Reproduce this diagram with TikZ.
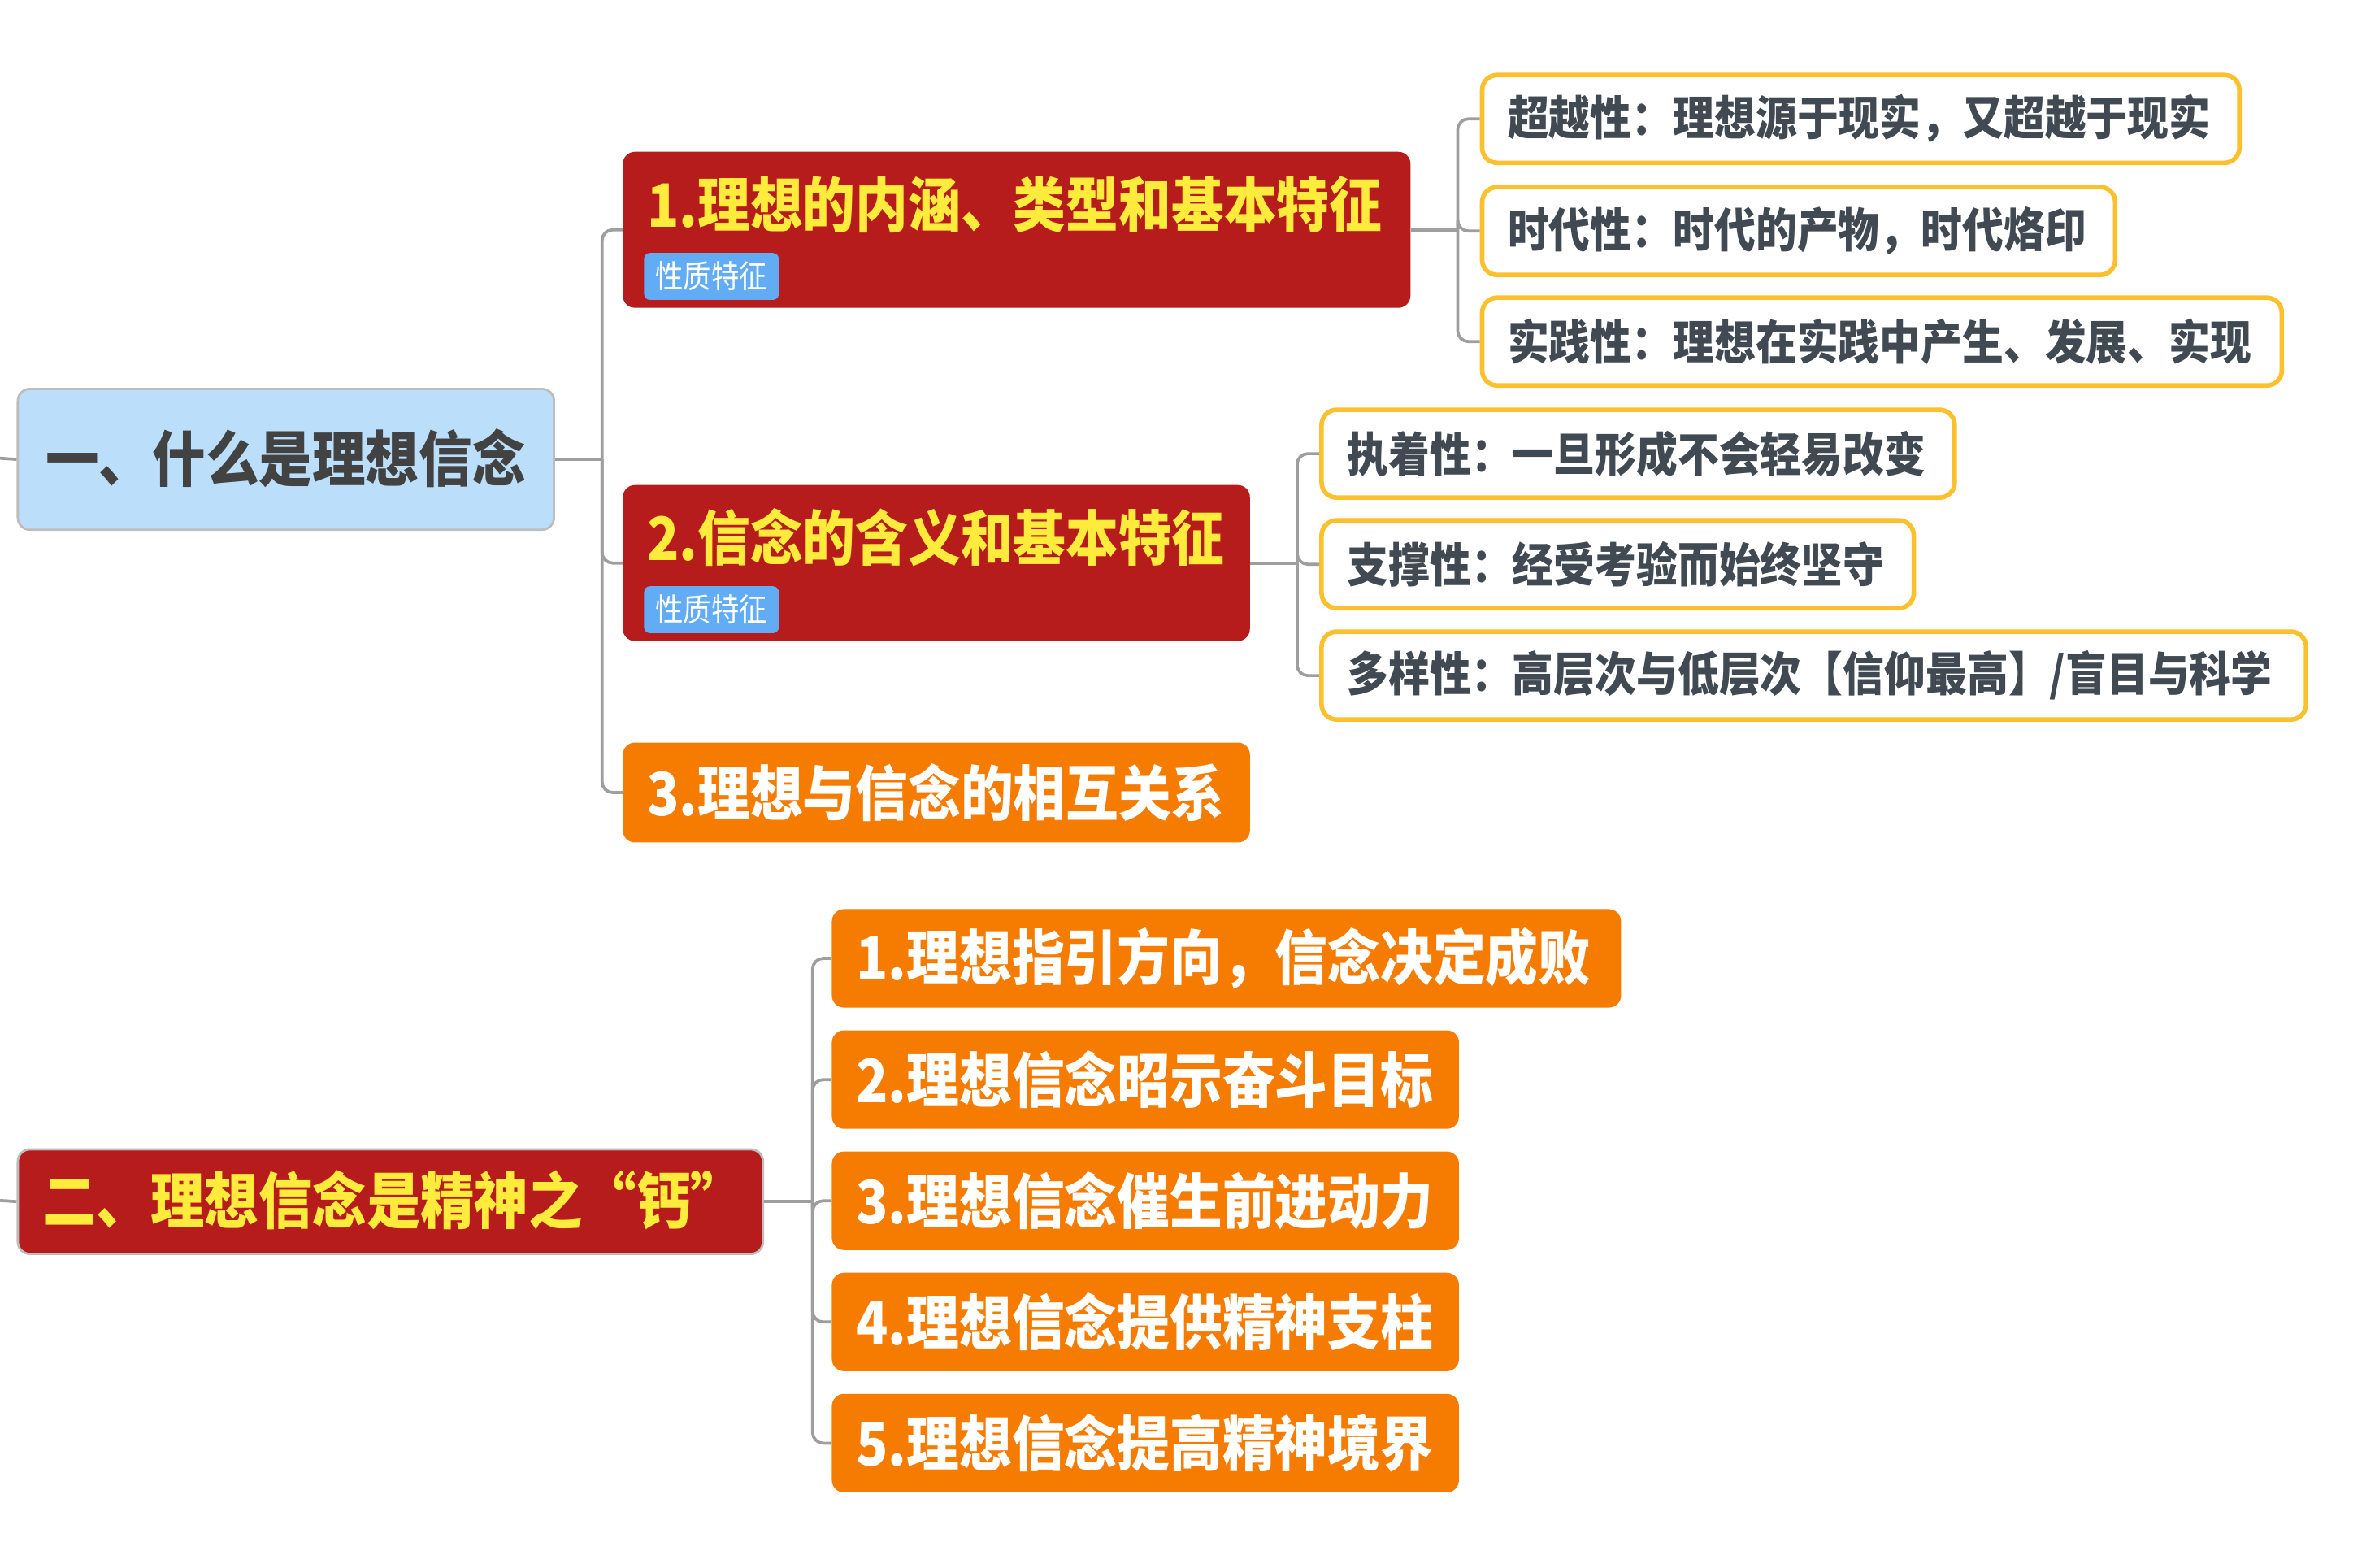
\documentclass[tikz,border=0pt]{standalone}
\usepackage{fontspec}
\setmainfont{Noto Sans CJK SC}[FakeStretch=0.88]
\usetikzlibrary{calc}
\definecolor{redbg}{HTML}{B71C1C}
\definecolor{orangebg}{HTML}{F57C00}
\definecolor{yel}{HTML}{FFEB3B}
\definecolor{lblue}{HTML}{BBDEFB}
\definecolor{tagblue}{HTML}{62ACF5}
\definecolor{leafborder}{HTML}{FBC02D}
\definecolor{leaftext}{HTML}{414A53}
\definecolor{roottext}{HTML}{424242}
\definecolor{conncol}{HTML}{9E9E9E}
\definecolor{rootborder}{HTML}{BDBDBD}
\tikzset{
  conn/.style={draw=conncol, line width=2pt, rounded corners=7pt},
  rootbox/.style={draw=rootborder, line width=1.5pt, rounded corners=8pt, anchor=north west, inner sep=0pt},
  bigbox/.style={fill=redbg, rounded corners=8pt, anchor=north west, inner sep=0pt},
  orbox/.style={fill=orangebg, rounded corners=8pt, anchor=north west, inner xsep=16pt, inner ysep=0pt, align=left,
     font=\fontsize{39.5}{44}\selectfont\bfseries, text=white},
  titletext/.style={anchor=west, inner sep=0pt, font=\fontsize{39.5}{44}\selectfont\bfseries, text=yel},
  tagbox/.style={fill=tagblue, rounded corners=4pt, anchor=west, inner sep=0pt, minimum width=89pt, minimum height=31pt,
     font=\fontsize{21}{24}\selectfont, text=white},
  leaf/.style={draw=leafborder, line width=3pt, fill=white, rounded corners=10pt, inner xsep=17pt, inner ysep=0pt,
     minimum height=58pt, font=\fontsize{31}{34}\selectfont\bfseries, text=leaftext, anchor=west, align=left},
}
\begin{document}
\begin{tikzpicture}[x=1pt,y=-1pt]
\useasboundingbox (0,0) rectangle (1568,1035);
% ---------- root 1 ----------
\node[rootbox, fill=lblue, minimum width=354pt, minimum height=93pt] (r1) at (11,256) {};
\node[anchor=west, inner sep=0pt, font=\fontsize{40}{44}\selectfont\bfseries, text=roottext] (r1t) at (30,302.5) {一、什么是理想信念};
\coordinate (s1) at (0,302.5);
% child boxes
\node[bigbox, minimum width=520pt, minimum height=103pt] (c1) at (411,100) {};
\node[titletext] (c1t) at (427,135) {1.理想的内涵、类型和基本特征};
\node[tagbox] (c1g) at (425,182.5) {性质特征};
\node[bigbox, minimum width=414pt, minimum height=103pt] (c2) at (411,320) {};
\node[titletext] (c2t) at (427,355) {2.信念的含义和基本特征};
\node[tagbox] (c2g) at (425,402.5) {性质特征};
\node[orbox, text width=382pt, minimum height=66pt] (c3) at (411,490) {3.理想与信念的相互关系};
% leaves of c1
\node[leaf, text width=466pt] (l1) at (977,78.5) {超越性：理想源于现实，又超越于现实};
\node[leaf, text width=384pt] (l2) at (977,152.5) {时代性：时代的产物，时代烙印};
\node[leaf, text width=494pt] (l3) at (977,225.5) {实践性：理想在实践中产生、发展、实现};
% leaves of c2
\node[leaf, text width=384pt] (l4) at (871,299.5) {执着性：一旦形成不会轻易改变};
\node[leaf, text width=357pt] (l5) at (871,372.5) {支撑性：经受考验而始终坚守};
\node[leaf, text width=616pt] (l6) at (871,446) {多样性：高层次与低层次【信仰最高】/盲目与科学};
% ---------- root 2 ----------
\node[rootbox, fill=redbg, minimum width=492pt, minimum height=69pt] (r2) at (11,758) {};
\node[anchor=west, inner sep=0pt, font=\fontsize{40.5}{44}\selectfont\bfseries, text=yel] (r2t) at (28,792.5) {二、理想信念是精神之“钙”};
\coordinate (s2) at (0,792.5);
\node[orbox, text width=489pt, minimum height=65pt] (o1) at (549,600) {1.理想指引方向，信念决定成败};
\node[orbox, text width=382pt, minimum height=65pt] (o2) at (549,680) {2.理想信念昭示奋斗目标};
\node[orbox, text width=382pt, minimum height=65pt] (o3) at (549,760) {3.理想信念催生前进动力};
\node[orbox, text width=382pt, minimum height=65pt] (o4) at (549,840) {4.理想信念提供精神支柱};
\node[orbox, text width=382pt, minimum height=65pt] (o5) at (549,920) {5.理想信念提高精神境界};
% ---------- connectors ----------
\draw[conn] (s1) -- (r1.west);
\draw[conn] (s2) -- (r2.west);
\coordinate (j1) at ($(r1.east)+(31,0)$);
\draw[conn] (r1.east) -- (j1);
\foreach \c in {c1,c2,c3} \draw[conn] (j1) |- (\c.west);
\coordinate (j2) at ($(c1.east)+(31,0)$);
\draw[conn] (c1.east) -- (j2);
\foreach \c in {l1,l2,l3} \draw[conn] (j2) |- (\c.west);
\coordinate (j3) at ($(c2.east)+(31,0)$);
\draw[conn] (c2.east) -- (j3);
\foreach \c in {l4,l5,l6} \draw[conn] (j3) |- (\c.west);
\coordinate (j4) at ($(r2.east)+(32,0)$);
\draw[conn] (r2.east) -- (j4);
\foreach \c in {o1,o2,o3,o4,o5} \draw[conn] (j4) |- (\c.west);
\end{tikzpicture}
\end{document}
